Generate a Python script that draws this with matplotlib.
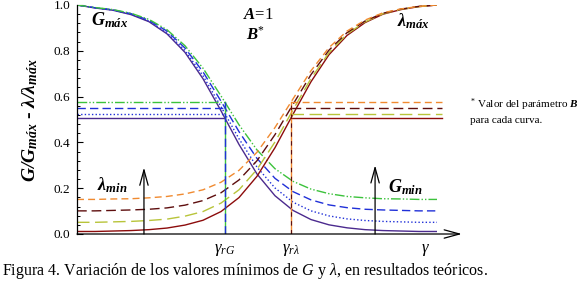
import matplotlib
matplotlib.use("Agg")
import matplotlib.pyplot as plt
from matplotlib.ticker import MultipleLocator

plt.rcParams["font.family"] = ["Liberation Serif", "DejaVu Serif"]
plt.rcParams["mathtext.fontset"] = "custom"
plt.rcParams["mathtext.rm"] = "Liberation Serif"
plt.rcParams["mathtext.it"] = "Liberation Serif:italic"
plt.rcParams["mathtext.bf"] = "Liberation Serif:bold:italic"

# gamma positions (arbitrary units, axis has no numeric ticks)
gamma = [0, 0.5, 1, 1.5, 2, 2.5, 3, 3.5, 4, 4.5, 5, 5.5, 6, 6.5, 7, 7.5, 8,
         8.5, 9, 9.5, 10]

# G / Gmax curves (one per B value)
g_solid = [1.000, 0.987, 0.977, 0.958, 0.927, 0.874, 0.793, 0.678, 0.538,
           0.391, 0.262, 0.167, 0.103, 0.063, 0.040, 0.027, 0.019, 0.015,
           0.013, 0.011, 0.011]
g_dotted = [1.000, 0.988, 0.978, 0.960, 0.930, 0.879, 0.801, 0.691, 0.556,
            0.416, 0.292, 0.201, 0.139, 0.101, 0.079, 0.066, 0.059, 0.055,
            0.053, 0.051, 0.051]
g_dashed = [1.000, 0.988, 0.979, 0.962, 0.933, 0.886, 0.812, 0.708, 0.580,
            0.447, 0.330, 0.243, 0.185, 0.149, 0.127, 0.115, 0.108, 0.105,
            0.103, 0.101, 0.101]
g_dashdot = [1.000, 0.989, 0.980, 0.964, 0.937, 0.892, 0.822, 0.724, 0.603,
             0.477, 0.367, 0.285, 0.230, 0.196, 0.176, 0.164, 0.158, 0.154,
             0.153, 0.151, 0.151]

# lambda / lambda max curves
l_solid = [0.011, 0.011, 0.013, 0.015, 0.019, 0.026, 0.039, 0.060, 0.098,
           0.159, 0.252, 0.377, 0.523, 0.665, 0.783, 0.867, 0.923, 0.960,
           0.980, 0.993, 1.000]
l_yellow = [0.051, 0.051, 0.053, 0.055, 0.059, 0.065, 0.078, 0.098, 0.135,
            0.193, 0.282, 0.402, 0.542, 0.679, 0.792, 0.873, 0.926, 0.962,
            0.981, 0.993, 1.000]
l_maroon = [0.101, 0.101, 0.103, 0.105, 0.108, 0.114, 0.126, 0.146, 0.180,
            0.236, 0.320, 0.434, 0.566, 0.696, 0.803, 0.879, 0.930, 0.964,
            0.982, 0.994, 1.000]
l_orange = [0.151, 0.151, 0.153, 0.154, 0.158, 0.164, 0.175, 0.193, 0.226,
            0.278, 0.357, 0.465, 0.590, 0.713, 0.814, 0.886, 0.934, 0.966,
            0.983, 0.994, 1.000]

# half-way levels and reference gammas
g_mid = [0.505, 0.525, 0.55, 0.575]
l_mid = [0.505, 0.525, 0.55, 0.575]
gamma_rG = 4.11
gamma_rl = 5.94
gamma_end = 10.0

PURPLE = "#4b2a8e"
BLUE = "#2030d8"
GREEN = "#3cc23c"
DARKRED = "#8c0c0c"
YELLOW = "#b8c43a"
MAROON = "#5e0e0e"
ORANGE = "#f08a30"

g_styles = [
    dict(color=PURPLE, ls="-"),
    dict(color=BLUE, dashes=(1, 1.6)),
    dict(color=BLUE, dashes=(6, 3)),
    dict(color=GREEN, dashes=(7, 1.5, 1, 1.5, 1, 1.5)),
]
l_styles = [
    dict(color=DARKRED, ls="-"),
    dict(color=YELLOW, dashes=(9, 4)),
    dict(color=MAROON, dashes=(7, 3.5)),
    dict(color=ORANGE, dashes=(5, 3)),
]

fig = plt.figure(figsize=(5.8, 2.83), dpi=100)
ax = fig.add_axes([77 / 580, 49 / 283, 360 / 580, 229 / 283])
ax.set_xlim(0, 10)
ax.set_ylim(0, 1)

for ys, st in zip([g_solid, g_dotted, g_dashed, g_dashdot], g_styles):
    ax.plot(gamma, ys, lw=1.0, **st)
for ys, st in zip([l_solid, l_yellow, l_maroon, l_orange], l_styles):
    ax.plot(gamma, ys, lw=1.0, **st)

for y, st in zip(g_mid, g_styles):
    ax.plot([0, gamma_rG], [y, y], lw=1.0, **st)
for y, st in zip(l_mid, l_styles):
    ax.plot([gamma_rl, gamma_end + 0.15], [y, y], lw=1.0, clip_on=False, **st)

# reference verticals
ax.plot([gamma_rG, gamma_rG], [0, max(g_mid)], color=GREEN, lw=1.0)
ax.plot([gamma_rG, gamma_rG], [0, max(g_mid)], color=BLUE, lw=1.0,
        dashes=(6, 3))
ax.plot([gamma_rl, gamma_rl], [0, max(l_mid)], color=ORANGE, lw=1.0)
ax.plot([gamma_rl, gamma_rl], [0, max(l_mid)], color=MAROON, lw=0.8,
        dashes=(4, 4))

arrow = dict(arrowstyle="->,head_length=1.1,head_width=0.3", lw=0.9,
             color="black", shrinkA=0, shrinkB=0, mutation_scale=10)
ax.annotate("", xy=(10.69, 0), xytext=(0, 0), arrowprops=arrow,
            annotation_clip=False)
ax.annotate("", xy=(1.86, 0.29), xytext=(1.86, 0), arrowprops=arrow)
ax.annotate("", xy=(8.28, 0.30), xytext=(8.28, 0), arrowprops=arrow)

for side in ["top", "right", "bottom"]:
    ax.spines[side].set_visible(False)
ax.spines["left"].set_linewidth(0.9)
ax.set_xticks([])
ax.yaxis.set_major_locator(MultipleLocator(0.2))
ax.yaxis.set_minor_locator(MultipleLocator(0.04))
ax.tick_params(axis="y", which="major", direction="in", length=4.5,
               width=0.8, labelsize=9.5, pad=5)
ax.tick_params(axis="y", which="minor", direction="in", length=2.5,
               width=0.7)
ax.set_yticklabels(["%.1f" % v for v in ax.get_yticks()])

# labels inside the plot
ax.text(0.4, 0.935, r"$\mathbf{G_{máx}}$", fontsize=13, va="center")
ax.text(8.9, 0.93, r"$\mathbf{\lambda_{máx}}$", fontsize=13, va="center")
ax.text(0.56, 0.214, r"$\mathbf{\lambda_{min}}$", fontsize=13, va="center")
ax.text(8.64, 0.205, r"$\mathbf{G_{min}}$", fontsize=13, va="center")
ax.text(5.03, 0.957, r"$\mathbf{A}$=1", fontsize=12, ha="center",
        va="center")
ax.text(4.95, 0.869, r"$\mathbf{B}^{*}$", fontsize=12, ha="center",
        va="center")
ax.text(gamma_rG, -0.07, r"$\gamma_{rG}$", fontsize=12, ha="center",
        va="center")
ax.text(gamma_rl, -0.07, r"$\gamma_{r\lambda}$", fontsize=12, ha="center",
        va="center")
ax.text(9.67, -0.07, r"$\gamma$", fontsize=12, ha="center", va="center")

fig.text(0.052, 0.576, r"$\mathbf{G/G_{máx}}$ - $\mathbf{\lambda/\lambda_{máx}}$",
         rotation=90, fontsize=14, fontweight="bold", ha="center",
         va="center")
fig.text(0.81, 0.629, r"$^{*}$ Valor del parámetro $\mathbf{B}$", fontsize=8,
         va="center")
fig.text(0.81, 0.574, "para cada curva.", fontsize=8, va="center")
fig.text(0.004, 0.042,
         r"Figura 4. Variación de los valores mínimos de $G$ y $\lambda$, "
         r"en resultados teóricos.", fontsize=11.5, va="center")

fig.savefig("out.png", dpi=100)
